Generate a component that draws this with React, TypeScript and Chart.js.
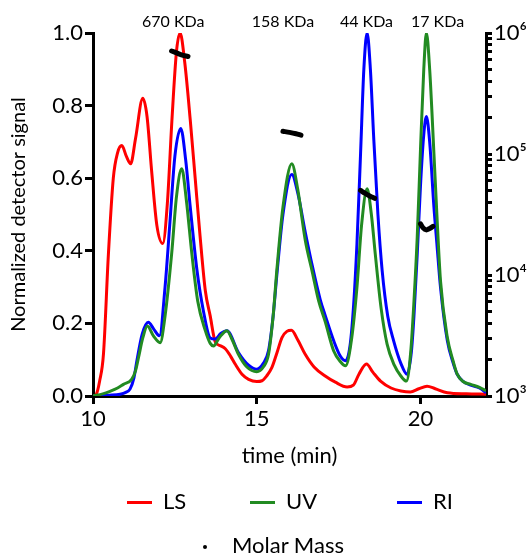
import React, { useEffect, useRef } from 'react';
import { Chart, registerables } from 'chart.js';

Chart.register(...registerables);

// ---- Data ----
const LS_TIME = [10.0, 10.1, 10.2, 10.32, 10.47, 10.62, 10.75, 10.88, 11.02, 11.15, 11.3, 11.52, 11.65, 11.79, 11.95, 12.13, 12.27, 12.41, 12.55, 12.66, 12.8, 12.97, 13.12, 13.27, 13.43, 13.58, 13.73, 13.9, 14.04, 14.2, 14.34, 14.55, 14.75, 15.0, 15.16, 15.3, 15.46, 15.62, 15.77, 15.92, 16.06, 16.25, 16.48, 16.75, 17.09, 17.4, 17.76, 17.95, 18.12, 18.35, 18.55, 18.78, 19.1, 19.4, 19.69, 19.95, 20.2, 20.45, 20.82, 21.4, 22.0];
const LS_SIGNAL = [0.0, 0.005, 0.04, 0.116, 0.39, 0.6, 0.67, 0.69, 0.66, 0.64, 0.71, 0.82, 0.77, 0.62, 0.47, 0.42, 0.53, 0.76, 0.95, 1.0, 0.92, 0.76, 0.6, 0.44, 0.29, 0.22, 0.15, 0.138, 0.13, 0.11, 0.088, 0.06, 0.046, 0.04, 0.042, 0.055, 0.078, 0.12, 0.161, 0.178, 0.181, 0.155, 0.115, 0.08, 0.055, 0.038, 0.025, 0.03, 0.06, 0.088, 0.065, 0.041, 0.022, 0.014, 0.011, 0.02, 0.027, 0.02, 0.009, 0.006, 0.005];

const UV_TIME = [10.0, 10.3, 10.52, 10.75, 10.93, 11.18, 11.3, 11.39, 11.52, 11.66, 11.85, 12.05, 12.2, 12.4, 12.55, 12.71, 12.85, 13.02, 13.2, 13.43, 13.58, 13.68, 13.85, 14.09, 14.25, 14.44, 14.7, 15.0, 15.2, 15.36, 15.5, 15.62, 15.8, 16.07, 16.25, 16.48, 16.7, 16.89, 17.09, 17.35, 17.55, 17.71, 17.9, 18.06, 18.2, 18.37, 18.5, 18.62, 18.8, 18.98, 19.2, 19.4, 19.57, 19.7, 19.8, 19.9, 20.0, 20.1, 20.18, 20.28, 20.41, 20.5, 20.61, 20.82, 21.0, 21.12, 21.3, 21.53, 21.8, 22.0];
const UV_SIGNAL = [0.0, 0.006, 0.013, 0.022, 0.032, 0.046, 0.07, 0.106, 0.16, 0.193, 0.165, 0.147, 0.22, 0.39, 0.55, 0.626, 0.54, 0.39, 0.26, 0.18, 0.145, 0.138, 0.16, 0.18, 0.155, 0.115, 0.08, 0.067, 0.08, 0.115, 0.22, 0.354, 0.52, 0.64, 0.57, 0.43, 0.34, 0.262, 0.205, 0.124, 0.095, 0.083, 0.16, 0.3, 0.47, 0.571, 0.5, 0.39, 0.24, 0.143, 0.085, 0.055, 0.041, 0.12, 0.26, 0.437, 0.68, 0.9, 1.0, 0.9, 0.668, 0.5, 0.318, 0.161, 0.095, 0.06, 0.04, 0.032, 0.024, 0.014];

const RI_TIME = [10.0, 10.5, 10.83, 11.0, 11.13, 11.25, 11.34, 11.5, 11.69, 11.85, 12.03, 12.2, 12.35, 12.5, 12.68, 12.83, 12.97, 13.17, 13.37, 13.58, 13.73, 13.9, 14.09, 14.44, 14.75, 15.0, 15.2, 15.36, 15.5, 15.62, 15.8, 16.07, 16.25, 16.48, 16.7, 16.94, 17.09, 17.35, 17.55, 17.71, 17.85, 17.96, 18.06, 18.17, 18.27, 18.37, 18.47, 18.57, 18.7, 18.83, 19.0, 19.18, 19.4, 19.59, 19.72, 19.8, 19.9, 20.0, 20.1, 20.18, 20.28, 20.41, 20.5, 20.61, 20.82, 21.0, 21.12, 21.3, 21.53, 21.8, 22.0];
const RI_SIGNAL = [0.0, 0.002, 0.005, 0.01, 0.019, 0.05, 0.097, 0.17, 0.203, 0.185, 0.166, 0.3, 0.48, 0.66, 0.737, 0.65, 0.52, 0.35, 0.235, 0.16, 0.157, 0.172, 0.18, 0.12, 0.085, 0.074, 0.09, 0.125, 0.22, 0.34, 0.5, 0.61, 0.56, 0.452, 0.357, 0.265, 0.222, 0.152, 0.11, 0.097, 0.14, 0.253, 0.42, 0.668, 0.9, 1.0, 0.9, 0.714, 0.5, 0.345, 0.22, 0.152, 0.09, 0.06, 0.12, 0.22, 0.39, 0.58, 0.72, 0.77, 0.7, 0.52, 0.42, 0.3, 0.152, 0.09, 0.06, 0.04, 0.03, 0.022, 0.009];

// Molar mass (g/mol), four peak segments
const MM_670_TIME = [12.4, 12.55, 12.7, 12.9];
const MM_670_VALUE = [7.1e5, 6.85e5, 6.6e5, 6.4e5];
const MM_158_TIME = [15.8, 16.0, 16.2, 16.35];
const MM_158_VALUE = [1.54e5, 1.51e5, 1.47e5, 1.43e5];
const MM_44_TIME = [18.17, 18.3, 18.45, 18.6];
const MM_44_VALUE = [5.0e4, 4.75e4, 4.5e4, 4.3e4];
const MM_17_TIME = [20.0, 20.08, 20.17, 20.28, 20.38];
const MM_17_VALUE = [2.65e4, 2.45e4, 2.36e4, 2.42e4, 2.52e4];

const ANNOTATION_LABELS = ['670 KDa', '158 KDa', '44 KDa', '17 KDa'];
const ANNOTATION_TIMES = [12.45, 15.8, 18.35, 20.52];

const Y_TICKS = [0, 0.2, 0.4, 0.6, 0.8, 1.0];
const X_TICKS = [10, 15, 20];
const Y2_DECADES = [1e3, 1e4, 1e5];
const Y2_MINOR_STEPS = [1, 2, 3, 4, 5, 6, 7, 8, 9];
const Y2_MAX = 1e6;
const SUPERSCRIPTS: Record<string, string> = { '3': '³', '4': '⁴', '5': '⁵', '6': '⁶' };

const FONT = 'Lato, "DejaVu Sans", sans-serif';
const RED = '#ff0000';
const GREEN = '#228b22';
const BLUE = '#0000ff';

function pairs(t: number[], v: (number | null)[]) {
  return t.map((x, i) => ({ x, y: v[i] }));
}

function molarMassData() {
  const segs: [number[], number[]][] = [
    [MM_670_TIME, MM_670_VALUE],
    [MM_158_TIME, MM_158_VALUE],
    [MM_44_TIME, MM_44_VALUE],
    [MM_17_TIME, MM_17_VALUE],
  ];
  const out: { x: number; y: number | null }[] = [];
  segs.forEach(([t, v], i) => {
    if (i > 0) out.push({ x: (t[0] + out[out.length - 1].x) / 2, y: null });
    out.push(...(pairs(t, v) as { x: number; y: number }[]));
  });
  return out;
}

const annotationPlugin = {
  id: 'peakLabels',
  afterDraw(chart: any) {
    const { ctx, scales } = chart;
    ctx.save();
    ctx.font = `16px ${FONT}`;
    ctx.fillStyle = '#000';
    ctx.textAlign = 'center';
    ctx.textBaseline = 'alphabetic';
    ANNOTATION_LABELS.forEach((lab, i) => {
      ctx.fillText(lab, scales.x.getPixelForValue(ANNOTATION_TIMES[i]), 27);
    });
    ctx.restore();
  },
};

export default function App() {
  const ref = useRef<HTMLCanvasElement | null>(null);

  useEffect(() => {
    if (!ref.current) return;
    const border = { display: true, color: '#000', width: 3 };
    const grid = (len: number) => ({
      display: true,
      drawOnChartArea: false,
      drawTicks: true,
      tickLength: len,
      tickWidth: 3,
      tickColor: '#000',
      lineWidth: 3,
    });
    const chart = new Chart(ref.current, {
      type: 'line',
      data: {
        datasets: [
          {
            label: 'Molar Mass',
            data: molarMassData(),
            yAxisID: 'y2',
            borderColor: '#000',
            backgroundColor: '#000',
            borderWidth: 5,
            borderCapStyle: 'round',
            pointRadius: 0,
            spanGaps: false,
            tension: 0.3,
          },
          {
            label: 'UV',
            data: pairs(UV_TIME, UV_SIGNAL),
            yAxisID: 'y',
            borderColor: GREEN,
            borderWidth: 3,
            pointRadius: 0,
            cubicInterpolationMode: 'monotone',
          },
          {
            label: 'RI',
            data: pairs(RI_TIME, RI_SIGNAL),
            yAxisID: 'y',
            borderColor: BLUE,
            borderWidth: 3,
            pointRadius: 0,
            cubicInterpolationMode: 'monotone',
          },
          {
            label: 'LS',
            data: pairs(LS_TIME, LS_SIGNAL),
            yAxisID: 'y',
            borderColor: RED,
            borderWidth: 3,
            pointRadius: 0,
            cubicInterpolationMode: 'monotone',
          },
        ],
      },
      options: {
        animation: false,
        responsive: true,
        maintainAspectRatio: false,
        layout: { padding: { top: 33, bottom: 90, left: 0, right: 0 } },
        plugins: { legend: { display: false }, tooltip: { enabled: false } },
        scales: {
          x: {
            type: 'linear',
            position: 'bottom',
            min: 10,
            max: 22,
            border,
            grid: grid(8),
            afterBuildTicks: (scale: any) => {
              scale.ticks = X_TICKS.map((v) => ({ value: v }));
            },
            ticks: {
              includeBounds: false,
              font: { family: FONT, size: 22 },
              color: '#000',
              padding: 2,
              callback: (v: any) => String(v),
            },
            title: {
              display: true,
              text: 'time (min)',
              font: { family: FONT, size: 22 },
              color: '#000',
              padding: { top: 0, bottom: 0 },
            },
            afterFit: (scale: any) => {
              scale.height = 73;
            },
          },
          y: {
            type: 'linear',
            position: 'left',
            min: 0,
            max: 1,
            border,
            grid: grid(8),
            afterBuildTicks: (scale: any) => {
              scale.ticks = Y_TICKS.map((v) => ({ value: v }));
            },
            ticks: {
              font: { family: FONT, size: 22 },
              color: '#000',
              padding: 2,
              callback: (v: any) => Number(v).toFixed(1),
            },
            title: {
              display: true,
              text: 'Normalized detector signal',
              font: { family: FONT, size: 20 },
              color: '#000',
              padding: { top: 7, bottom: 0 },
            },
            afterFit: (scale: any) => {
              scale.width = 93;
            },
          },
          y2: {
            type: 'logarithmic',
            position: 'right',
            min: 1000,
            max: Y2_MAX,
            border,
            grid: grid(6),
            afterBuildTicks: (scale: any) => {
              const t: { value: number; major: boolean }[] = [];
              Y2_DECADES.forEach((d) => {
                Y2_MINOR_STEPS.forEach((s) => t.push({ value: d * s, major: s === 1 }));
              });
              t.push({ value: Y2_MAX, major: true });
              scale.ticks = t;
            },
            ticks: {
              autoSkip: false,
              font: { family: FONT, size: 22 },
              color: '#000',
              padding: 2,
              callback: (v: any) => {
                const e = Math.log10(Number(v));
                if (Math.abs(e - Math.round(e)) < 1e-9) {
                  return '10' + (SUPERSCRIPTS[String(Math.round(e))] || '');
                }
                return '';
              },
            },
            afterFit: (scale: any) => {
              scale.width = 45;
            },
          },
        },
      } as any,
      plugins: [annotationPlugin],
    });
    return () => chart.destroy();
  }, []);

  const textStyle: React.CSSProperties = {
    position: 'absolute',
    fontFamily: FONT,
    fontSize: 22,
    lineHeight: '22px',
    color: '#000',
    whiteSpace: 'nowrap',
  };
  const swatch = (left: number, color: string): React.CSSProperties => ({
    position: 'absolute',
    left,
    top: 501,
    width: 25,
    height: 3,
    background: color,
  });

  return (
    <div style={{ position: 'absolute', left: 0, top: 0, width: 531, height: 559, background: '#fff' }}>
      <canvas ref={ref} />
      <div style={swatch(127, RED)} />
      <div style={{ ...textStyle, left: 163, top: 490 }}>LS</div>
      <div style={swatch(250, GREEN)} />
      <div style={{ ...textStyle, left: 286, top: 490 }}>UV</div>
      <div style={swatch(397, BLUE)} />
      <div style={{ ...textStyle, left: 433, top: 490 }}>RI</div>
      <div style={{ position: 'absolute', left: 203, top: 545, width: 4, height: 4, borderRadius: 2, background: '#000' }} />
      <div style={{ ...textStyle, left: 232, top: 534 }}>Molar Mass</div>
    </div>
  );
}
